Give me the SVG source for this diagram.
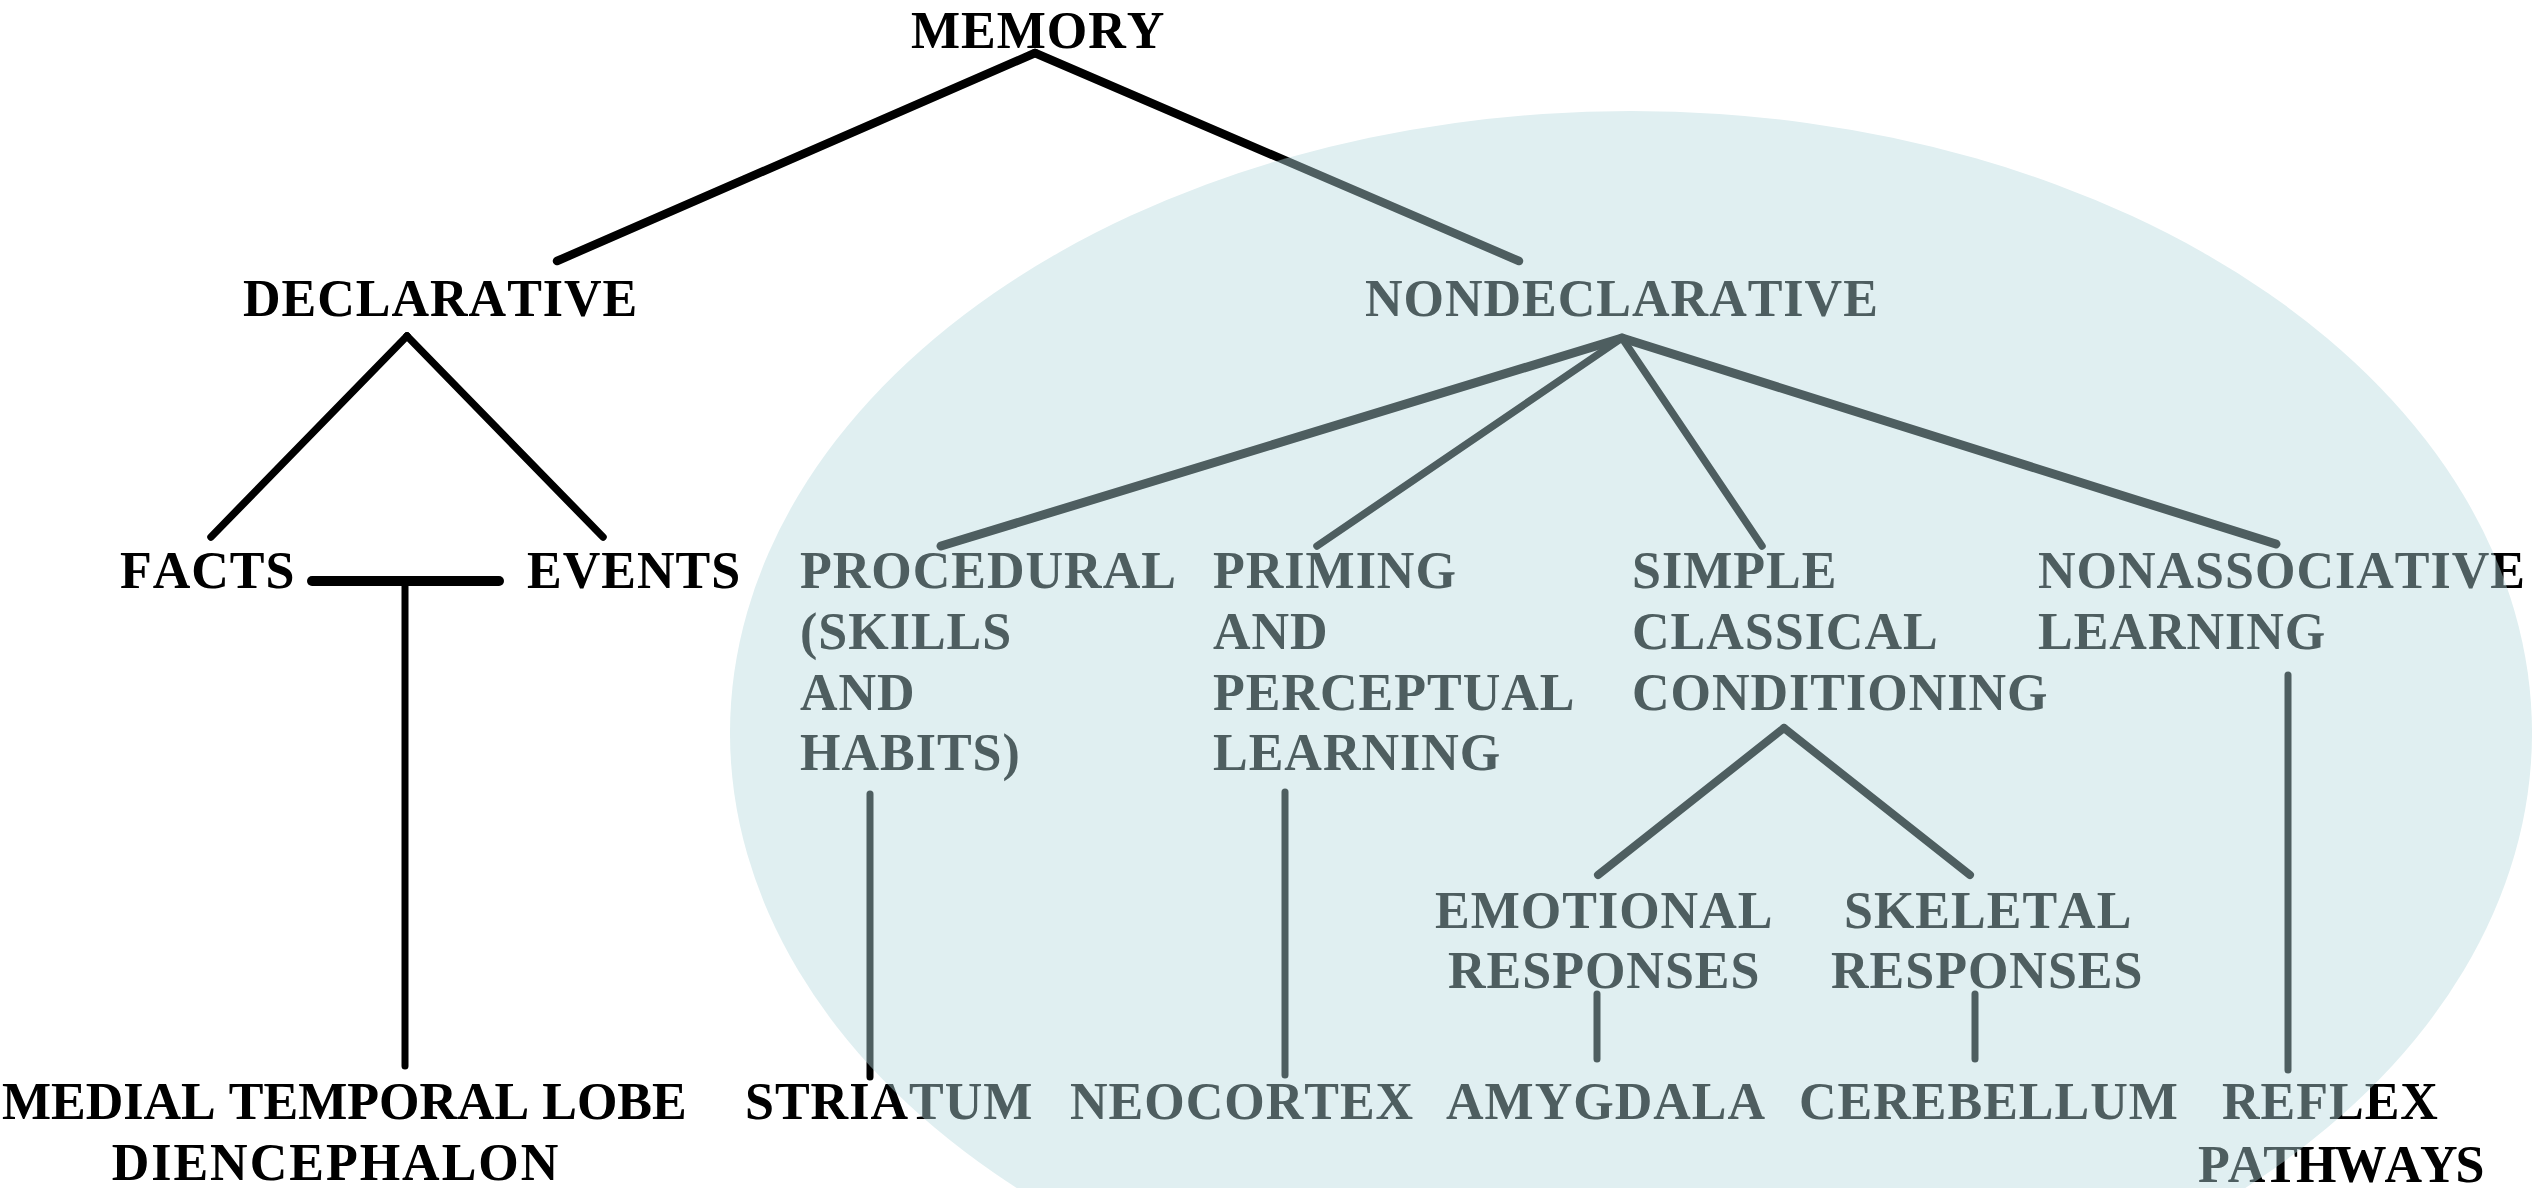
<svg xmlns="http://www.w3.org/2000/svg" width="2539" height="1188" viewBox="0 0 2539 1188">
<defs>
  <pattern id="ink" patternUnits="userSpaceOnUse" x="0" y="0" width="2539" height="1188">
    <rect x="0" y="0" width="2539" height="1188" fill="#000000"/>
    <ellipse cx="1631" cy="733" rx="901" ry="622" fill="#4e5e60"/>
  </pattern>
</defs>
<style>
  text { font-family: "Liberation Serif", "Times New Roman", serif; font-weight: bold; font-size: 52px; fill: url(#ink); font-kerning: none; letter-spacing: 1px; }
  .c { fill: none; stroke: url(#ink); stroke-linecap: round; }
</style>
<rect x="0" y="0" width="2539" height="1188" fill="#ffffff"/>
<ellipse id="nondeclarative-region" cx="1631" cy="733" rx="901" ry="622" fill="#e0eff1"/>

<g id="connectors">
  <line class="c" x1="1035" y1="53" x2="557" y2="261" stroke-width="8.5"/>
  <line class="c" x1="1035" y1="53" x2="1519" y2="261" stroke-width="8.5"/>
  <line class="c" x1="407" y1="336" x2="211" y2="537" stroke-width="7.5"/>
  <line class="c" x1="407" y1="336" x2="603" y2="537" stroke-width="7.5"/>
  <line class="c" x1="312" y1="581" x2="499" y2="581" stroke-width="10"/>
  <line class="c" x1="405" y1="581" x2="405" y2="1066" stroke-width="7"/>
  <line class="c" x1="1622" y1="338" x2="941" y2="546" stroke-width="9"/>
  <line class="c" x1="1622" y1="338" x2="1317" y2="546" stroke-width="7.5"/>
  <line class="c" x1="1622" y1="338" x2="1762" y2="546" stroke-width="7.5"/>
  <line class="c" x1="1622" y1="338" x2="2276" y2="544" stroke-width="9"/>
  <line class="c" x1="870" y1="794" x2="870" y2="1077" stroke-width="7"/>
  <line class="c" x1="1285" y1="792" x2="1285" y2="1075" stroke-width="7"/>
  <line class="c" x1="1784" y1="728" x2="1598" y2="875" stroke-width="8"/>
  <line class="c" x1="1784" y1="728" x2="1970" y2="875" stroke-width="8"/>
  <line class="c" x1="1597" y1="994" x2="1597" y2="1059" stroke-width="7"/>
  <line class="c" x1="1975" y1="994" x2="1975" y2="1059" stroke-width="7"/>
  <line class="c" x1="2288" y1="675" x2="2288" y2="1070" stroke-width="7"/>
</g>

<g id="memory"><text x="911" y="48">MEMORY</text></g>
<g id="declarative"><text x="243" y="316">DECLARATIVE</text></g>
<g id="nondeclarative"><text x="1365" y="316">NONDECLARATIVE</text></g>
<g id="facts"><text x="120" y="588">FACTS</text></g>
<g id="events"><text x="527" y="588">EVENTS</text></g>
<g id="procedural">
  <text x="800" y="588">PROCEDURAL</text>
  <text x="800" y="649">(SKILLS</text>
  <text x="800" y="710">AND</text>
  <text x="800" y="770">HABITS)</text>
</g>
<g id="priming">
  <text x="1213" y="588">PRIMING</text>
  <text x="1213" y="649">AND</text>
  <text x="1213" y="710">PERCEPTUAL</text>
  <text x="1213" y="770">LEARNING</text>
</g>
<g id="conditioning">
  <text x="1632" y="588">SIMPLE</text>
  <text x="1632" y="649">CLASSICAL</text>
  <text x="1632" y="710">CONDITIONING</text>
</g>
<g id="nonassociative">
  <text x="2038" y="588">NONASSOCIATIVE</text>
  <text x="2038" y="649">LEARNING</text>
</g>
<g id="emotional">
  <text x="1435" y="928">EMOTIONAL</text>
  <text x="1448" y="988">RESPONSES</text>
</g>
<g id="skeletal">
  <text x="1844" y="928">SKELETAL</text>
  <text x="1831" y="988">RESPONSES</text>
</g>
<g id="mtl">
  <text x="2" y="1119" style="letter-spacing:0">MEDIAL TEMPORAL LOBE</text>
  <text x="336" y="1180" text-anchor="middle" style="letter-spacing:2px">DIENCEPHALON</text>
</g>
<g id="striatum"><text x="745" y="1119">STRIATUM</text></g>
<g id="neocortex"><text x="1070" y="1119">NEOCORTEX</text></g>
<g id="amygdala"><text x="1446" y="1119">AMYGDALA</text></g>
<g id="cerebellum"><text x="1799" y="1119">CEREBELLUM</text></g>
<g id="reflex">
  <text x="2222" y="1119">REFLEX</text>
  <text x="2198" y="1182" style="letter-spacing:-2px">PATHWAYS</text>
</g>
</svg>
